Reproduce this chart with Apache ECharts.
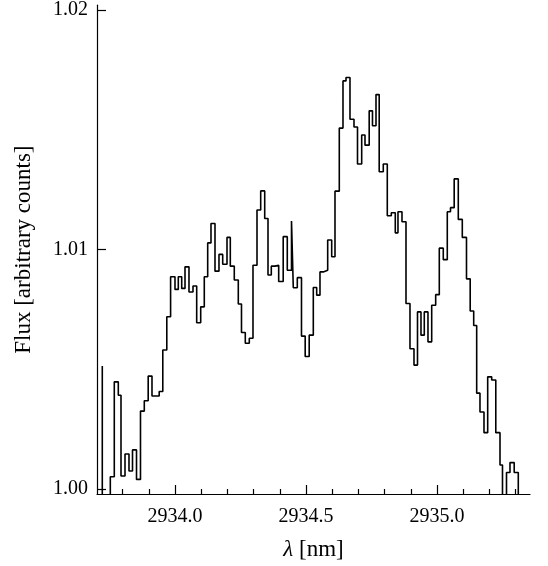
<!DOCTYPE html>
<html><head><meta charset="utf-8">
<script src="https://cdn.jsdelivr.net/npm/echarts@6/dist/echarts.min.js"></script>
<style>html,body{margin:0;padding:0;background:#fff}#c{width:548px;height:566px}</style>
</head><body><div id="c"></div>
<script>
// bin edges (nm) and flux per bin
const binEdges = [2933.7225,2933.7225,2933.7531,2933.7683,2933.7836,2933.7939,2933.8092,2933.8244,2933.8378,2933.8531,
2933.8683,2933.8828,2933.8977,2933.9122,2933.9256,2933.9397,2933.9534,2933.9687,2933.9832,2934.0000,
2934.0126,2934.0256,2934.0382,2934.0534,2934.0687,2934.0828,2934.0981,2934.1118,2934.1248,2934.1374,
2934.1527,2934.1679,2934.1821,2934.1985,2934.2111,2934.2263,2934.2416,2934.2538,2934.2683,2934.2836,
2934.2977,2934.3130,2934.3271,2934.3424,2934.3550,2934.3676,2934.3817,2934.3958,2934.4130,2934.4286,
2934.4447,2934.4515,2934.4668,2934.4828,2934.4969,2934.5122,2934.5279,2934.5408,2934.5534,2934.5660,
2934.5828,2934.5981,2934.6107,2934.6271,2934.6412,2934.6527,2934.6679,2934.6832,2934.6966,2934.7126,
2934.7252,2934.7412,2934.7538,2934.7672,2934.7794,2934.7950,2934.8103,2934.8256,2934.8408,2934.8511,
2934.8664,2934.8817,2934.8969,2934.9122,2934.9256,2934.9389,2934.9515,2934.9656,2934.9798,2934.9950,
2935.0088,2935.0240,2935.0393,2935.0515,2935.0656,2935.0813,2935.0966,2935.1126,2935.1267,2935.1401,
2935.1515,2935.1641,2935.1794,2935.1935,2935.2088,2935.2244,2935.2405,2935.2500,2935.2653,2935.2786,
2935.2947,2935.3103,2935.3244];
const flux = [1.00514,0.9990,1.00052,1.00448,1.00392,1.00055,1.00147,1.00076,1.00164,1.00041,
1.00326,1.00369,1.00472,1.00389,1.00389,1.00408,1.00581,1.00720,1.00887,1.00834,
1.00887,1.00838,1.00928,1.00823,1.00848,1.00695,1.00761,1.00887,1.01028,1.01109,
1.00910,1.00980,1.00939,1.01051,1.00931,1.00873,1.00773,1.00654,1.00609,1.00630,
1.00935,1.01165,1.01245,1.01130,1.00894,1.00931,1.00935,1.00867,1.01054,1.00914,
1.01119,1.00841,1.00883,1.00639,1.00554,1.00643,1.00842,1.00810,1.00907,1.00914,
1.01040,1.00970,1.01244,1.01507,1.01704,1.01718,1.01544,1.01512,1.01357,1.01478,
1.01436,1.01579,1.01517,1.01647,1.01325,1.01357,1.01141,1.01154,1.01070,1.01158,
1.01116,1.00775,1.00586,1.00518,1.00740,1.00643,1.00740,1.00615,1.00768,1.00812,
1.01006,1.00958,1.01158,1.01175,1.01295,1.01126,1.01051,1.00878,1.00744,1.00683,
1.00401,1.00322,1.00236,1.00469,1.00456,1.00236,1.00101,0.9990,1.00070,1.00111,
1.00070,0.9990];
const xMajorTicks = [2934.0, 2934.5, 2935.0];
const xMinorTicks = [2933.8, 2933.9, 2934.1, 2934.2, 2934.3, 2934.4, 2934.6, 2934.7, 2934.8, 2934.9, 2935.1, 2935.2, 2935.3];
const yTicks = [1.00, 1.01, 1.02];

const pts = [];
for (let i = 0; i < flux.length; i++) {
  pts.push([binEdges[i], flux[i]]);
  pts.push([binEdges[i + 1], flux[i]]);
}
const font = 'Liberation Serif';
const XMIN = 2933.7023, XMAX = 2935.355, YMIN = 0.9998, YMAX = 1.0202;
const gridBox = {left: 97, top: 5, right: 18, bottom: 72, containLabel: false};
const tickLine = {color: '#000', width: 1.2};
const chart = echarts.init(document.getElementById('c'), null, {renderer: 'canvas'});
chart.setOption({
  animation: false,
  backgroundColor: '#fff',
  grid: [Object.assign({}, gridBox), Object.assign({}, gridBox)],
  xAxis: [{
    type: 'value', gridIndex: 0, min: XMIN, max: XMAX, position: 'bottom',
    axisLine: {show: true, onZero: false, lineStyle: tickLine},
    axisTick: {show: true, inside: true, length: 9, customValues: xMajorTicks, lineStyle: tickLine},
    axisLabel: {show: true, customValues: xMajorTicks, margin: 13, color: '#000', fontFamily: font, fontSize: 20,
      formatter: v => v.toFixed(1)},
    splitLine: {show: false},
    name: '{i|λ} [nm]', nameLocation: 'middle', nameGap: 44,
    nameTextStyle: {color: '#000', fontFamily: font, fontSize: 23,
      rich: {i: {fontStyle: 'italic', fontFamily: font, fontSize: 23, color: '#000'}}}
  }, {
    type: 'value', gridIndex: 1, min: XMIN, max: XMAX, position: 'bottom',
    axisLine: {show: false, onZero: false},
    axisTick: {show: true, inside: true, length: 5, customValues: xMinorTicks, lineStyle: tickLine},
    axisLabel: {show: false},
    splitLine: {show: false}
  }],
  yAxis: [{
    type: 'value', gridIndex: 0, min: YMIN, max: YMAX,
    axisLine: {show: true, onZero: false, lineStyle: tickLine},
    axisTick: {show: true, inside: true, length: 9, customValues: yTicks, lineStyle: tickLine},
    axisLabel: {show: true, customValues: yTicks, margin: 9, color: '#000', fontFamily: font, fontSize: 20,
      formatter: v => v.toFixed(2)},
    splitLine: {show: false},
    name: 'Flux [arbitrary counts]', nameLocation: 'middle', nameGap: 62, nameRotate: 90,
    nameTextStyle: {color: '#000', fontFamily: font, fontSize: 23}
  }, {
    type: 'value', gridIndex: 1, min: YMIN, max: YMAX,
    axisLine: {show: false}, axisTick: {show: false}, axisLabel: {show: false}, splitLine: {show: false}
  }],
  series: [{
    type: 'line', data: pts, xAxisIndex: 0, yAxisIndex: 0,
    showSymbol: false, symbol: 'none', clip: true,
    lineStyle: {color: '#000', width: 1.6}
  }]
});
</script></body></html>
